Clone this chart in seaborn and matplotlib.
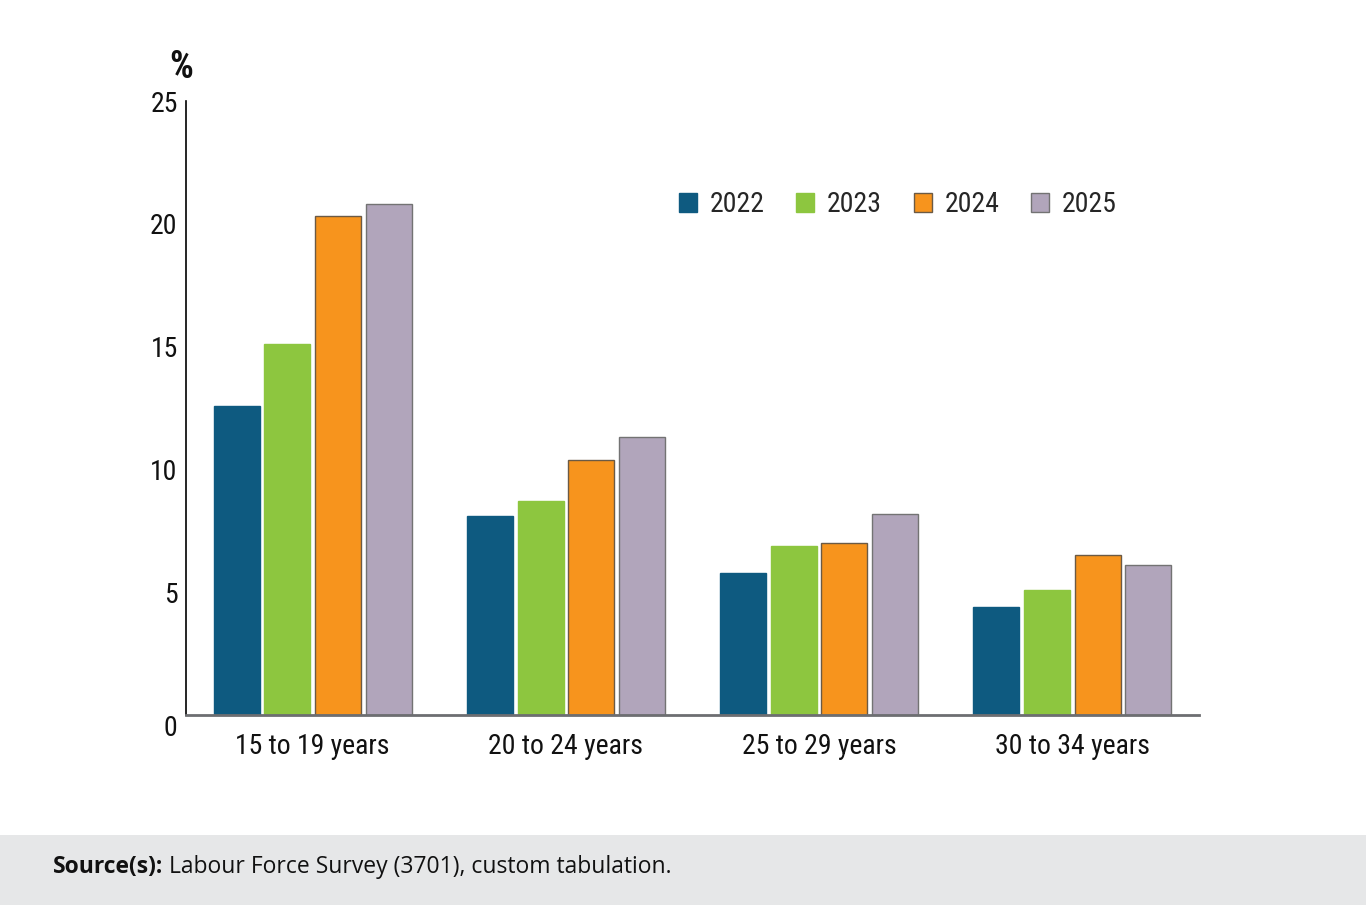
import matplotlib
matplotlib.use("Agg")
import matplotlib.pyplot as plt
import matplotlib.transforms as mtransforms
import seaborn as sns
import pandas as pd
from matplotlib.patches import Rectangle, Patch
from matplotlib import font_manager as fm

categories = ["15 to 19 years", "20 to 24 years", "25 to 29 years", "30 to 34 years"]
years = ["2022", "2023", "2024", "2025"]
v2022 = [12.6, 8.1, 5.8, 4.4]
v2023 = [15.1, 8.7, 6.9, 5.1]
v2024 = [20.3, 10.4, 7.0, 6.5]
v2025 = [20.8, 11.3, 8.2, 6.1]
yticks = [0, 5, 10, 15, 20, 25]

colors = ["#0e5a80", "#8dc63f", "#f7941d", "#b1a5bb"]
edges = ["#0e5a80", "#8dc63f", "#6b5a45", "#737373"]

rows = []
for yr, vals in zip(years, [v2022, v2023, v2024, v2025]):
    for c, v in zip(categories, vals):
        rows.append({"group": c, "year": yr, "value": v})
df = pd.DataFrame(rows)

sns.set_style("white")
installed = {f.name for f in fm.fontManager.ttflist}
cands = ["Roboto Condensed", "Liberation Sans Narrow", "Arial Narrow", "Open Sans Condensed", "Roboto"]
fams = [c for c in cands if c in installed] + ["DejaVu Sans"]
plt.rcParams["font.family"] = fams
plt.rcParams["font.stretch"] = "condensed"
main = fams[0]
fsz = 20 if main != "Roboto" else 19

fig = plt.figure(figsize=(13.66, 9.05), dpi=100)
ax = fig.add_axes([186 / 1366, 1 - 715 / 905, (1199 - 186) / 1366, (715 - 101) / 905])

sns.barplot(data=df, x="group", y="value", hue="year", order=categories,
            hue_order=years, palette=colors, width=0.8, gap=0.09,
            saturation=1, ax=ax, legend=False)

for cont, ec in zip(ax.containers, edges):
    for p in cont:
        p.set_edgecolor(ec)
        p.set_linewidth(1.0)

ax.set_xlim(-0.5, 3.5)
ax.set_ylim(0, 25)
ax.set_yticks(yticks)
ax.set_yticklabels([str(t) for t in yticks])
ax.set_xlabel("")
ax.set_ylabel("")

for s in ["top", "right"]:
    ax.spines[s].set_visible(False)
ax.spines["left"].set_color("#000000")
ax.spines["left"].set_linewidth(1.2)
ax.spines["bottom"].set_color("#6d6e71")
ax.spines["bottom"].set_linewidth(2)

ax.tick_params(axis="y", direction="in", length=25, width=1.5, color="#808080",
               labelsize=fsz, pad=6, labelcolor="#111111")
ax.tick_params(axis="x", length=0, labelsize=fsz, pad=13, labelcolor="#111111")

# the zero label sits a little below its tick in the original
zero_lbl = ax.get_yticklabels()[0]
zero_lbl.set_transform(zero_lbl.get_transform() +
                       mtransforms.ScaledTranslation(0, -10 / 100, fig.dpi_scale_trans))

fig.text(181 / 1366, 1 - 67 / 905, "%", fontsize=27, fontweight="bold",
         ha="center", va="center", color="#111111")

handles = [Patch(facecolor=c, edgecolor=e, linewidth=1) for c, e in zip(colors, edges)]
fig.legend(handles, years, loc="center left", bbox_to_anchor=(679 / 1366, 1 - 205 / 905),
           ncol=4, frameon=False, fontsize=fsz, handlelength=18 / (fsz * 100 / 72),
           handleheight=18 / (fsz * 100 / 72),
           handletextpad=0.45, columnspacing=1.15, borderpad=0, borderaxespad=0)

fig.patches.append(Rectangle((0, 0), 1, 70 / 905, transform=fig.transFigure,
                             facecolor="#e6e7e8", edgecolor="none", zorder=0))
foot_font = ["Open Sans", "DejaVu Sans"]
t1 = fig.text(53 / 1366, 1 - 867 / 905, "Source(s):", fontsize=16.5, fontweight="bold",
              family=foot_font, stretch="normal", va="center", ha="left", color="#111111")
fig.add_artist(plt.Annotation(" Labour Force Survey (3701), custom tabulation.",
                              xy=(1, 0.5), xycoords=t1, va="center", ha="left",
                              fontsize=16.5, family=foot_font, stretch="normal",
                              color="#111111"))

fig.savefig("out.png", dpi=100, facecolor="white")
